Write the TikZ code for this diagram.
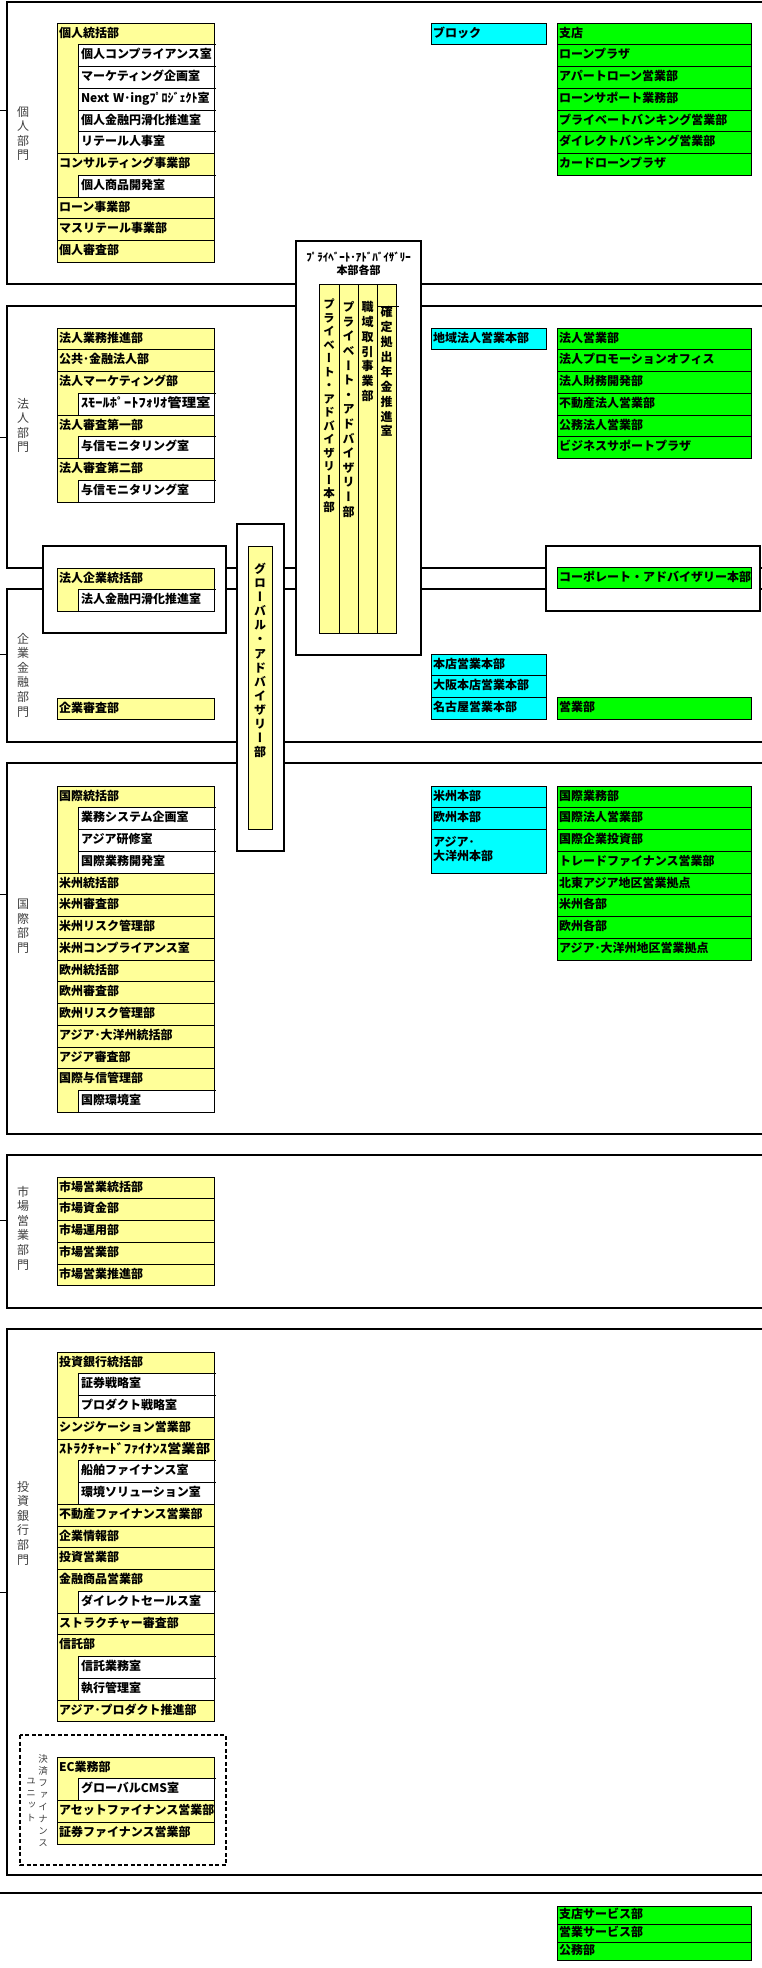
\documentclass[tikz,border=0pt]{standalone}
\usepackage{fontspec}
\setmainfont{Noto Sans CJK JP}
\newfontfamily\jpv{Noto Sans CJK JP}[RawFeature=+vert]
\definecolor{Y}{HTML}{FFFF99}
\definecolor{C}{HTML}{00FFFF}
\definecolor{G}{HTML}{00FF00}
\def\p{21.75}
\newcommand\hw[1]{\scalebox{1.2}[1.05]{#1}}
\begin{document}
\begin{tikzpicture}[x=1pt,y=-1pt,
  every node/.style={inner ysep=0pt, outer sep=0pt},
  cell/.style={draw, line width=1pt, anchor=north west, minimum height=21.75pt, text height=9pt, text depth=2.5pt, align=left, font=\fontsize{12}{14}\selectfont\bfseries},
  yrow/.style={cell, fill=Y, inner xsep=2pt, text width=153pt},
  ysub/.style={cell, fill=white, inner xsep=3pt, text width=130pt},
  yhead/.style={cell, draw=none, inner xsep=2pt, text width=153pt},
  crow/.style={cell, fill=C, inner xsep=2pt, text width=111pt},
  grn/.style={cell, fill=G, inner xsep=2pt, text width=190pt},
  gsmall/.style={grn, minimum height=18pt, text height=8.5pt, text depth=2pt},
  yblock/.style={draw, line width=1pt, fill=Y},
  frame/.style={line width=2.3pt},
  over/.style={draw, line width=2.3pt, fill=white},
  tick/.style={line width=0.8pt},
  seclabel/.style={anchor=north, align=center, inner sep=0pt, text=black!75, font=\jpv\fontsize{12}{14.6}\selectfont},
  vtext/.style={anchor=north, align=center, inner sep=0pt, font=\jpv\bfseries\fontsize{12}{14.6}\selectfont},
]
\useasboundingbox (0,0) rectangle (762,1968);
\clip (0,0) rectangle (762,1968);
\fill[white] (0,0) rectangle (762,1968);

% ---------- section frames ----------
\draw[frame] (775,2) -| (7,284) -- (775,284);
\draw[frame] (775,306) -| (7,568) -- (775,568);
\draw[frame] (775,589) -| (7,742) -- (775,742);
\draw[frame] (775,763) -| (7,1134) -- (775,1134);
\draw[frame] (775,1155) -| (7,1308) -- (775,1308);
\draw[frame] (775,1329) -| (7,1875) -- (775,1875);
\draw[frame] (-5,1893) -- (775,1893);

% ticks
\foreach \yy in {110,437,654,894,1220,1592} \draw[tick] (0,\yy) -- (7,\yy);

% section labels
\node[seclabel] (lb1) at (23,106) {個\\人\\部\\門};
\node[seclabel] (lb2) at (23,398) {法\\人\\部\\門};
\node[seclabel] (lb3) at (23,633) {企\\業\\金\\融\\部\\門};
\node[seclabel] (lb4) at (23,899) {国\\際\\部\\門};
\node[seclabel] (lb5) at (23,1186) {市\\場\\営\\業\\部\\門};
\node[seclabel] (lb6) at (23,1481) {投\\資\\銀\\行\\部\\門};

% ---------- 個人部門 ----------
\def\T{23}
\draw[yblock] (57,\T) rectangle (214,{\T+6*\p});
\node[yhead] (k1) at (57,\T) {個人統括部};
\node[ysub] (k1a) at (78,{\T+1*\p}) {個人コンプライアンス室};
\node[ysub] (k1b) at (78,{\T+2*\p}) {マーケティング企画室};
\node[ysub] (k1c) at (78,{\T+3*\p}) {Next W･ingﾌﾟﾛｼﾞｪｸﾄ室};
\node[ysub] (k1d) at (78,{\T+4*\p}) {個人金融円滑化推進室};
\node[ysub] (k1e) at (78,{\T+5*\p}) {リテール人事室};
\draw[yblock] (57,{\T+6*\p}) rectangle (214,{\T+8*\p});
\node[yhead] (k2) at (57,{\T+6*\p}) {コンサルティング事業部};
\node[ysub] (k2a) at (78,{\T+7*\p}) {個人商品開発室};
\node[yrow] (k3) at (57,{\T+8*\p}) {ローン事業部};
\node[yrow] (k4) at (57,{\T+9*\p}) {マスリテール事業部};
\node[yrow] (k5) at (57,{\T+10*\p}) {個人審査部};
\foreach \n in {k1a,k1b,k1c,k1d,k1e,k2a} \draw[line width=1pt] (\n.north east) -- ++(2,0);

\node[crow] (kc1) at (431,\T) {ブロック};
\node[grn] (kg1) at (557,\T) {支店};
\node[grn] (kg2) at (557,{\T+1*\p}) {ローンプラザ};
\node[grn] (kg3) at (557,{\T+2*\p}) {アパートローン営業部};
\node[grn] (kg4) at (557,{\T+3*\p}) {ローンサポート業務部};
\node[grn] (kg5) at (557,{\T+4*\p}) {プライベートバンキング営業部};
\node[grn] (kg6) at (557,{\T+5*\p}) {ダイレクトバンキング営業部};
\node[grn] (kg7) at (557,{\T+6*\p}) {カードローンプラザ};

% ---------- 法人部門 ----------
\def\T{328}
\node[yrow] (h1) at (57,\T) {法人業務推進部};
\node[yrow] (h2) at (57,{\T+1*\p}) {公共･金融法人部};
\draw[yblock] (57,{\T+2*\p}) rectangle (214,{\T+4*\p});
\node[yhead] (h3) at (57,{\T+2*\p}) {法人マーケティング部};
\node[ysub] (h3a) at (78,{\T+3*\p}) {\hw{ｽﾓｰﾙﾎﾟｰﾄﾌｫﾘｵ管理室}};
\draw[yblock] (57,{\T+4*\p}) rectangle (214,{\T+6*\p});
\node[yhead] (h4) at (57,{\T+4*\p}) {法人審査第一部};
\node[ysub] (h4a) at (78,{\T+5*\p}) {与信モニタリング室};
\draw[yblock] (57,{\T+6*\p}) rectangle (214,{\T+8*\p});
\node[yhead] (h5) at (57,{\T+6*\p}) {法人審査第二部};
\node[ysub] (h5a) at (78,{\T+7*\p}) {与信モニタリング室};
\foreach \n in {h3a,h4a,h5a} \draw[line width=1pt] (\n.north east) -- ++(2,0);

\node[crow] (hc1) at (431,\T) {地域法人営業本部};
\node[grn] (hg1) at (557,\T) {法人営業部};
\node[grn] (hg2) at (557,{\T+1*\p}) {法人プロモーションオフィス};
\node[grn] (hg3) at (557,{\T+2*\p}) {法人財務開発部};
\node[grn] (hg4) at (557,{\T+3*\p}) {不動産法人営業部};
\node[grn] (hg5) at (557,{\T+4*\p}) {公務法人営業部};
\node[grn] (hg6) at (557,{\T+5*\p}) {ビジネスサポートプラザ};

% ---------- 企業金融部門 ----------
\node[yrow] (c1) at (57,698) {企業審査部};
\def\T{654}
\node[crow] (cc1) at (431,\T) {本店営業本部};
\node[crow] (cc2) at (431,{\T+1*\p}) {大阪本店営業本部};
\node[crow] (cc3) at (431,{\T+2*\p}) {名古屋営業本部};
\node[grn] (cg1) at (557,{\T+2*\p}) {営業部};

% ---------- overlay boxes ----------
% 法人企業統括部 box
\draw[over] (43,546) rectangle (226,633);
\draw[yblock] (57,568) rectangle (214,{568+2*\p});
\node[yhead] (ht) at (57,568) {法人企業統括部};
\node[ysub] (hta) at (78,{568+\p}) {法人金融円滑化推進室};
\draw[line width=1pt] (hta.north east) -- ++(2,0);

% corporate advisory box
\draw[over] (546,546) rectangle (760,611);
\node[grn] (ca) at (557,567) {コーポレート・アドバイザリー本部};

% global advisory box
\draw[over] (237,524) rectangle (284,851);
\draw[yblock] (248,546) rectangle (272,829);
\node[vtext, font=\jpv\bfseries\fontsize{12}{14.1}\selectfont] (ga) at (260,563) {グ\\ロ\\ー\\バ\\ル\\・\\ア\\ド\\バ\\イ\\ザ\\リ\\ー\\部};

% private advisory box
\draw[over] (296,241) rectangle (421,655);
\node[align=center, inner sep=0pt, font=\fontsize{11}{12.5}\selectfont\bfseries] (pat) at (358.5,264) {ﾌﾟﾗｲﾍﾞｰﾄ･ｱﾄﾞﾊﾞｲｻﾞﾘｰ\\本部各部};
\draw[yblock] (319,284) rectangle (339,633);
\draw[yblock] (339,284) rectangle (358,633);
\draw[yblock] (358,284) rectangle (377,633);
\draw[yblock] (377,284) rectangle (396,633);
\draw[line width=1pt] (377,306) -- (399,306);
\node[vtext, font=\jpv\bfseries\fontsize{11.5}{13.5}\selectfont] (pa1) at (329,299) {プ\\ラ\\イ\\ベ\\ー\\ト\\・\\ア\\ド\\バ\\イ\\ザ\\リ\\ー\\本\\部};
\node[vtext] (pa2) at (348.5,301.5) {プ\\ラ\\イ\\ベ\\ー\\ト\\・\\ア\\ド\\バ\\イ\\ザ\\リ\\ー\\部};
\node[vtext, font=\jpv\bfseries\fontsize{12}{14.8}\selectfont] (pa3) at (367.5,301.5) {職\\域\\取\\引\\事\\業\\部};
\node[vtext, font=\jpv\bfseries\fontsize{12}{14.9}\selectfont] (pa4) at (386.5,306.5) {確\\定\\拠\\出\\年\\金\\推\\進\\室};

% ---------- 国際部門 ----------
\def\T{786}
\draw[yblock] (57,\T) rectangle (214,{\T+4*\p});
\node[yhead] (i1) at (57,\T) {国際統括部};
\node[ysub] (i1a) at (78,{\T+1*\p}) {業務システム企画室};
\node[ysub] (i1b) at (78,{\T+2*\p}) {アジア研修室};
\node[ysub] (i1c) at (78,{\T+3*\p}) {国際業務開発室};
\node[yrow] (i2) at (57,{\T+4*\p}) {米州統括部};
\node[yrow] (i3) at (57,{\T+5*\p}) {米州審査部};
\node[yrow] (i4) at (57,{\T+6*\p}) {米州リスク管理部};
\node[yrow] (i5) at (57,{\T+7*\p}) {米州コンプライアンス室};
\node[yrow] (i6) at (57,{\T+8*\p}) {欧州統括部};
\node[yrow] (i7) at (57,{\T+9*\p}) {欧州審査部};
\node[yrow] (i8) at (57,{\T+10*\p}) {欧州リスク管理部};
\node[yrow] (i9) at (57,{\T+11*\p}) {アジア･大洋州統括部};
\node[yrow] (i10) at (57,{\T+12*\p}) {アジア審査部};
\draw[yblock] (57,{\T+13*\p}) rectangle (214,{\T+15*\p});
\node[yhead] (i11) at (57,{\T+13*\p}) {国際与信管理部};
\node[ysub] (i11a) at (78,{\T+14*\p}) {国際環境室};
\foreach \n in {i1a,i1b,i1c,i11a} \draw[line width=1pt] (\n.north east) -- ++(2,0);

\node[crow] (ic1) at (431,\T) {米州本部};
\node[crow] (ic2) at (431,{\T+1*\p}) {欧州本部};
\node[crow, minimum height=43.5pt, text height=9pt, text depth=19pt] (ic3) at (431,{\T+2*\p}) {アジア･\\大洋州本部};
\node[grn] (ig1) at (557,\T) {国際業務部};
\node[grn] (ig2) at (557,{\T+1*\p}) {国際法人営業部};
\node[grn] (ig3) at (557,{\T+2*\p}) {国際企業投資部};
\node[grn] (ig4) at (557,{\T+3*\p}) {トレードファイナンス営業部};
\node[grn] (ig5) at (557,{\T+4*\p}) {北東アジア地区営業拠点};
\node[grn] (ig6) at (557,{\T+5*\p}) {米州各部};
\node[grn] (ig7) at (557,{\T+6*\p}) {欧州各部};
\node[grn] (ig8) at (557,{\T+7*\p}) {アジア･大洋州地区営業拠点};

% ---------- 市場営業部門 ----------
\def\T{1177}
\node[yrow] (m1) at (57,\T) {市場営業統括部};
\node[yrow] (m2) at (57,{\T+1*\p}) {市場資金部};
\node[yrow] (m3) at (57,{\T+2*\p}) {市場運用部};
\node[yrow] (m4) at (57,{\T+3*\p}) {市場営業部};
\node[yrow] (m5) at (57,{\T+4*\p}) {市場営業推進部};

% ---------- 投資銀行部門 ----------
\def\T{1352}
\draw[yblock] (57,\T) rectangle (214,{\T+3*\p});
\node[yhead] (t1) at (57,\T) {投資銀行統括部};
\node[ysub] (t1a) at (78,{\T+1*\p}) {証券戦略室};
\node[ysub] (t1b) at (78,{\T+2*\p}) {プロダクト戦略室};
\node[yrow] (t2) at (57,{\T+3*\p}) {シンジケーション営業部};
\draw[yblock] (57,{\T+4*\p}) rectangle (214,{\T+7*\p});
\node[yhead] (t3) at (57,{\T+4*\p}) {\hw{ｽﾄﾗｸﾁｬｰﾄﾞﾌｧｲﾅﾝｽ営業部}};
\node[ysub] (t3a) at (78,{\T+5*\p}) {船舶ファイナンス室};
\node[ysub] (t3b) at (78,{\T+6*\p}) {環境ソリューション室};
\node[yrow] (t4) at (57,{\T+7*\p}) {不動産ファイナンス営業部};
\node[yrow] (t5) at (57,{\T+8*\p}) {企業情報部};
\node[yrow] (t6) at (57,{\T+9*\p}) {投資営業部};
\draw[yblock] (57,{\T+10*\p}) rectangle (214,{\T+12*\p});
\node[yhead] (t7) at (57,{\T+10*\p}) {金融商品営業部};
\node[ysub] (t7a) at (78,{\T+11*\p}) {ダイレクトセールス室};
\node[yrow] (t8) at (57,{\T+12*\p}) {ストラクチャー審査部};
\draw[yblock] (57,{\T+13*\p}) rectangle (214,{\T+16*\p});
\node[yhead] (t9) at (57,{\T+13*\p}) {信託部};
\node[ysub] (t9a) at (78,{\T+14*\p}) {信託業務室};
\node[ysub] (t9b) at (78,{\T+15*\p}) {執行管理室};
\node[yrow] (t10) at (57,{\T+16*\p}) {アジア･プロダクト推進部};
\foreach \n in {t1a,t1b,t3a,t3b,t7a,t9a,t9b} \draw[line width=1pt] (\n.north east) -- ++(2,0);

% 決済ファイナンスユニット
\draw[line width=1.5pt, dash pattern=on 4pt off 2.5pt] (20,1735) rectangle (226,1865);
\node[seclabel, font=\jpv\fontsize{9.5}{12}\selectfont] (u1) at (43,1755) {決\\済\\フ\\ァ\\イ\\ナ\\ン\\ス};
\node[seclabel, font=\jpv\fontsize{9.5}{12.3}\selectfont] (u2) at (31,1778) {ユ\\ニ\\ッ\\ト};
\def\T{1757}
\draw[yblock] (57,\T) rectangle (214,{\T+2*\p});
\node[yhead] (e1) at (57,\T) {EC業務部};
\node[ysub] (e1a) at (78,{\T+1*\p}) {グローバルCMS室};
\draw[line width=1pt] (e1a.north east) -- ++(2,0);
\node[yrow] (e2) at (57,{\T+2*\p}) {アセットファイナンス営業部};
\node[yrow] (e3) at (57,{\T+3*\p}) {証券ファイナンス営業部};

% ---------- bottom ----------
\node[gsmall] (b1) at (557,1906) {支店サービス部};
\node[gsmall] (b2) at (557,1924) {営業サービス部};
\node[gsmall] (b3) at (557,1942) {公務部};
\end{tikzpicture}
\end{document}
